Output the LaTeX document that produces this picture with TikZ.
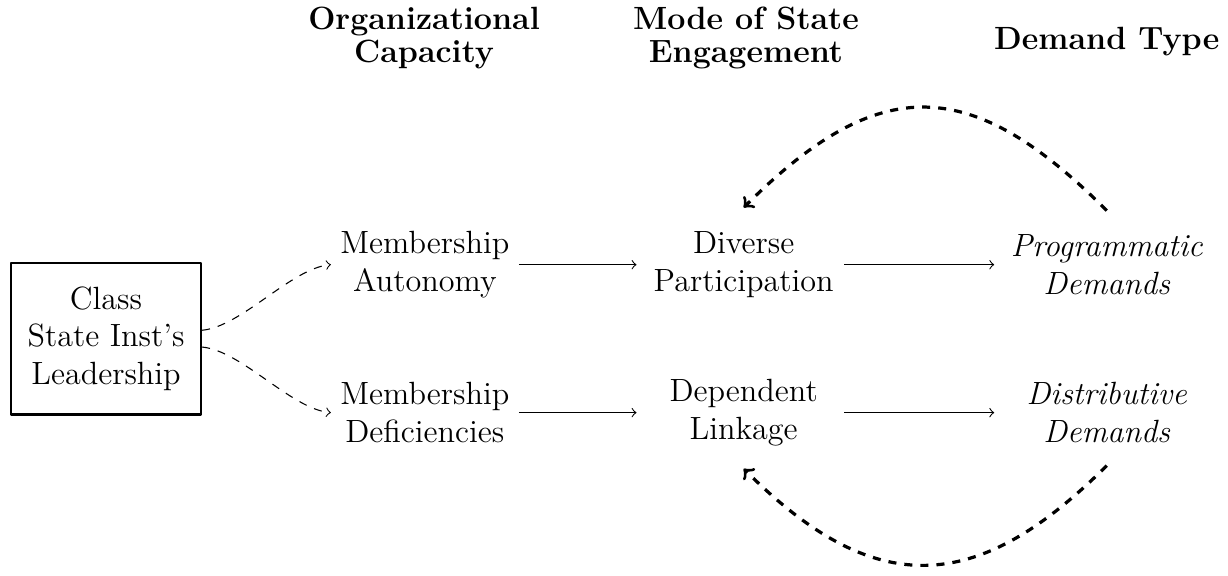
\documentclass[tikz,border=0pt]{standalone}
\begin{document}
\begin{tikzpicture}[font=\large, line join=round, >=to,
	hdr/.style={align=center, font=\fontsize{12}{12.3}\selectfont\bfseries},
	lbl/.style={align=center},
	dem/.style={align=center, font=\large\itshape, minimum width=2.76cm},
	flow/.style={->, shorten >=2.5pt},
	loop/.style={very thick, dashed, ->}] % feedback from demand type
	\useasboundingbox (0,0) rectangle (16.10,-7.54);
	% column heads
	\node[hdr] (hcap) at (5.56,-0.5) {Organizational\\Capacity};
	\node[hdr] (hmode) at (9.78,-0.5) {Mode of State\\Engagement};
	\node[hdr] (htype) at (14.51,-0.54) {Demand Type};
	% nodes
	\node[draw, thick, lbl, minimum width=2.49cm, minimum height=1.99cm] (lead) at (1.39,-4.44) {Class\\State Inst's\\Leadership};
	\node[lbl] (aut) at (5.57,-3.47) {Membership\\Autonomy};
	\node[lbl] (def) at (5.57,-5.41) {Membership\\Deficiencies};
	\node[lbl, minimum width=2.62cm] (div) at (9.75,-3.47) {Diverse\\Participation};
	\node[lbl, minimum width=2.62cm] (dep) at (9.75,-5.41) {Dependent\\Linkage};
	\node[dem] (prog) at (14.51,-3.47) {Programmatic\\Demands};
	\node[dem] (dist) at (14.51,-5.41) {Distributive\\Demands};
	% arrows
	\draw[dashed, ->] (lead.5) to[out=5, in=185, looseness=0.7] (aut.west);
	\draw[dashed, ->] (lead.-5) to[out=-5, in=175, looseness=0.7] (def.west);
	\draw[flow] (aut) -- (div);
	\draw[flow] (def) -- (dep);
	\draw[flow] (div) -- (prog);
	\draw[flow] (dep) -- (dist);
	\draw[loop] ([yshift=5.5pt]prog.north) to[out=135, in=45, looseness=1.35] ([yshift=5.5pt]div.north);
	\draw[loop] ([yshift=-5pt]dist.south) to[out=-135, in=-45, looseness=1.3] ([yshift=-5pt]dep.south);
\end{tikzpicture}
\end{document}
